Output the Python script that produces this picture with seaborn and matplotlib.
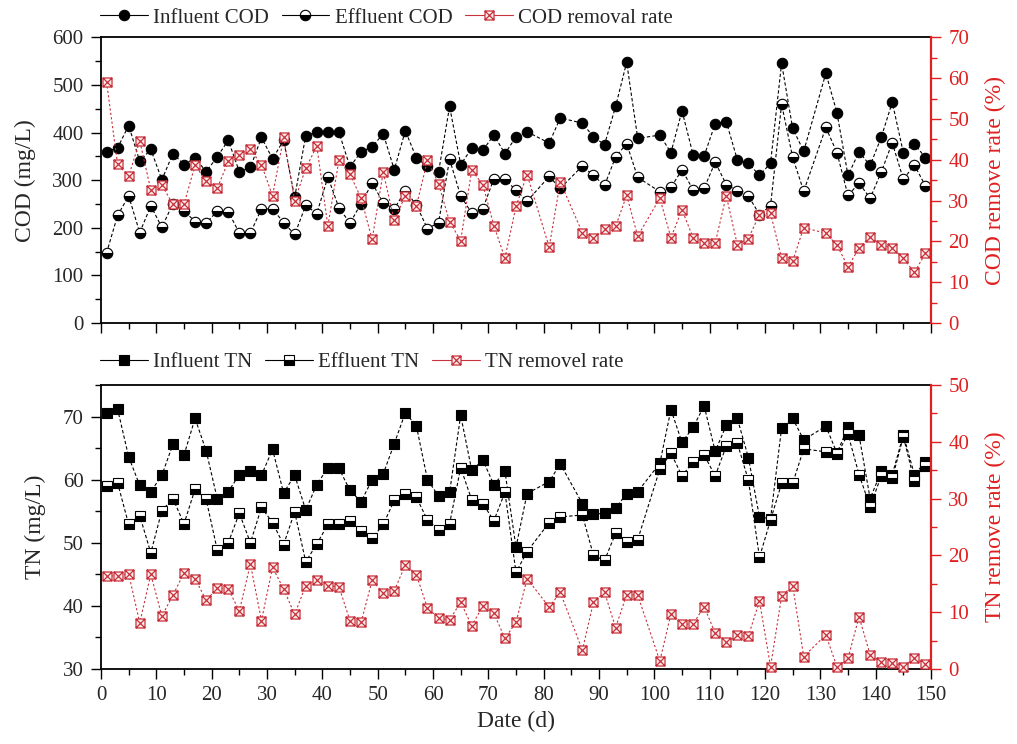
import matplotlib
matplotlib.use("Agg")
import matplotlib.pyplot as plt
from matplotlib.path import Path
from matplotlib.ticker import MultipleLocator
import numpy as np
import pandas as pd
import seaborn as sns

# ---------------- data ----------------
days = [1, 3, 5, 7, 9, 11, 13, 15, 17, 19, 21, 23, 25, 27, 29, 31, 33, 35, 37, 39,
        41, 43, 45, 47, 49, 51, 53, 55, 57, 59, 61, 63, 65, 67, 69, 71, 73, 75, 77,
        81, 83, 87, 89, 91, 93, 95, 97,
        101, 103, 105, 107, 109, 111, 113, 115, 117, 119, 121, 123, 125, 127,
        131, 133, 135, 137, 139, 141, 143, 145, 147, 149]

influent_cod = [360, 368, 415, 340, 365, 301, 356, 333, 347, 318,
                349, 384, 318, 327, 390, 345, 384, 264, 394, 401,
                401, 401, 328, 360, 370, 398, 322, 404, 347, 329,
                317, 455, 333, 367, 363, 395, 356, 391, 402,
                378, 431, 420, 391, 375, 455, 548, 388,
                395, 358, 446, 354, 351, 419, 423, 343, 336, 310, 336, 546, 409, 361,
                525, 442, 310, 360, 331, 390, 464, 358, 377, 347]

effluent_cod = [147, 226, 267, 190, 246, 201, 251, 236, 213, 210,
                235, 234, 189, 189, 240, 240, 211, 186, 247, 230,
                307, 242, 210, 251, 294, 253, 240, 278, 248, 198,
                211, 344, 267, 231, 240, 303, 302, 279, 256,
                308, 283, 330, 310, 289, 349, 377, 306,
                276, 285, 322, 280, 283, 338, 291, 278, 267, 228, 246, 460, 348, 277,
                411, 358, 268, 294, 262, 317, 379, 302, 332, 288]

cod_rate = [59.1, 38.9, 36.0, 44.7, 32.6, 33.8, 29.1, 29.1, 38.7, 34.8,
            33.0, 39.6, 41.3, 42.6, 38.8, 31.2, 45.5, 30.0, 37.9, 43.4,
            23.8, 39.9, 36.5, 30.6, 20.5, 37.0, 25.2, 31.2, 28.7, 39.9,
            34.2, 24.8, 20.2, 37.5, 33.9, 23.9, 15.9, 28.6, 36.4,
            18.6, 34.6, 22.1, 20.8, 23.0, 23.7, 31.3, 21.3,
            30.6, 20.9, 27.8, 20.9, 19.6, 19.6, 31.2, 19.2, 20.7, 26.6, 26.9, 15.9, 15.2, 23.4,
            22.0, 19.1, 13.8, 18.4, 21.2, 19.1, 18.4, 15.9, 12.4, 17.1]

influent_tn = [70.6, 71.2, 63.6, 59.1, 58.1, 60.7, 65.6, 63.9, 69.7, 64.6,
               57.0, 58.1, 60.8, 61.4, 60.7, 64.8, 57.9, 60.7, 55.2, 59.2,
               61.9, 61.8, 58.3, 56.5, 60.0, 60.9, 65.7, 70.6, 68.5, 60.0,
               57.4, 58.0, 70.2, 61.5, 63.1, 59.2, 61.3, 49.3, 57.8,
               59.7, 62.5, 56.2, 54.5, 54.7, 55.5, 57.8, 58.1,
               62.6, 71.1, 65.9, 68.3, 71.7, 64.5, 68.6, 69.7, 63.5, 54.1, 53.8, 68.2, 69.7, 66.3,
               68.5, 64.2, 68.3, 67.0, 57.0, 61.3, 60.8, 67.1, 60.8, 62.8]

effluent_tn = [59.0, 59.5, 52.9, 54.3, 48.4, 55.1, 57.0, 53.0, 58.5, 56.9,
               48.9, 50.0, 54.7, 50.0, 55.6, 53.2, 49.7, 54.9, 47.0, 49.8,
               52.9, 52.9, 53.5, 51.9, 50.7, 52.9, 56.7, 57.7, 57.2, 53.6,
               52.1, 53.0, 61.9, 56.8, 56.2, 53.5, 58.0, 45.3, 48.6,
               53.2, 54.1, 54.4, 48.0, 47.2, 51.5, 50.2, 50.5,
               61.7, 64.2, 60.6, 62.8, 63.9, 60.6, 65.3, 65.8, 59.9, 47.7, 53.6, 59.4, 59.4, 64.9,
               64.4, 64.0, 67.2, 60.8, 55.7, 60.6, 60.2, 66.8, 59.8, 62.2]

tn_rate = [16.4, 16.4, 16.8, 8.1, 16.7, 9.3, 13.0, 16.9, 15.9, 12.1,
           14.2, 14.1, 10.2, 18.5, 8.5, 17.9, 14.1, 9.6, 14.7, 15.7,
           14.6, 14.5, 8.5, 8.2, 15.6, 13.4, 13.8, 18.3, 16.6, 10.7,
           9.0, 8.6, 11.8, 7.6, 11.1, 9.8, 5.4, 8.2, 15.9,
           10.9, 13.5, 3.3, 11.8, 13.5, 7.3, 13.1, 13.0,
           1.4, 9.7, 7.9, 7.9, 11.0, 6.3, 4.8, 5.9, 5.8, 12.0, 0.4, 12.8, 14.7, 2.2,
           6.0, 0.4, 1.9, 9.2, 2.5, 1.3, 1.1, 0.4, 1.9, 0.9]

df = pd.DataFrame({"day": days, "in_cod": influent_cod, "eff_cod": effluent_cod,
                   "cod_rate": cod_rate, "in_tn": influent_tn, "eff_tn": effluent_tn,
                   "tn_rate": tn_rate})

# ---------------- style ----------------
sns.set_style("ticks")
plt.rcParams["font.family"] = ["Liberation Serif", "DejaVu Serif"]
RED = "#E02020"
MRED = "#C8323C"
FS_TICK = 15
FS_LAB = 17

# square with an X inside
boxx = Path([(-1, -1), (1, -1), (1, 1), (-1, 1), (-1, -1),
             (-1, -1), (1, 1), (-1, 1), (1, -1)],
            [Path.MOVETO, Path.LINETO, Path.LINETO, Path.LINETO, Path.CLOSEPOLY,
             Path.MOVETO, Path.LINETO, Path.MOVETO, Path.LINETO])

fig = plt.figure(figsize=(10.17, 7.44), dpi=100)
ax1 = fig.add_axes([101 / 1017, 1 - 323 / 744, 830 / 1017, 285.5 / 744])
ax3 = fig.add_axes([101 / 1017, 1 - 669 / 744, 830 / 1017, 284 / 744])
ax2 = ax1.twinx()
ax4 = ax3.twinx()

black_kw = dict(color="black", lw=0.8, linestyle=(0, (3, 2)), markeredgecolor="black",
                markeredgewidth=0.8, errorbar=None, legend=False)
red_kw = dict(color=MRED, lw=0.8, linestyle=(0, (2, 2)), marker=boxx, markersize=6.5,
              markerfacecolor="#FBEAEA", markeredgecolor=MRED, markeredgewidth=0.9,
              errorbar=None, legend=False, clip_on=False)

sns.lineplot(data=df, x="day", y="in_cod", ax=ax1, marker="o", markersize=7.5,
             markerfacecolor="black", label="Influent COD", **black_kw)
sns.lineplot(data=df, x="day", y="eff_cod", ax=ax1, marker="o", markersize=7.5,
             fillstyle="bottom", markerfacecolor="black", markerfacecoloralt="white",
             label="Effluent COD", **black_kw)
sns.lineplot(data=df, x="day", y="cod_rate", ax=ax2, label="COD removal rate", **red_kw)

sns.lineplot(data=df, x="day", y="in_tn", ax=ax3, marker="s", markersize=6.5,
             markerfacecolor="black", label="Influent TN", **black_kw)
sns.lineplot(data=df, x="day", y="eff_tn", ax=ax3, marker="s", markersize=6.5,
             fillstyle="bottom", markerfacecolor="black", markerfacecoloralt="white",
             label="Effluent TN", **black_kw)
sns.lineplot(data=df, x="day", y="tn_rate", ax=ax4, label="TN removel rate", **red_kw)

# ---------------- axes formatting ----------------
for ax in (ax1, ax3):
    ax.set_xlim(0, 150)
    ax.xaxis.set_major_locator(MultipleLocator(10))
    ax.xaxis.set_minor_locator(MultipleLocator(5))
    ax.tick_params(axis="both", which="major", direction="out", length=7.5, width=1.0,
                   labelsize=FS_TICK, color="black", pad=5)
    ax.tick_params(axis="both", which="minor", direction="out", length=4, width=1.0,
                   color="black")
    for s in ("left", "bottom", "top"):
        ax.spines[s].set_linewidth(1.3)
        ax.spines[s].set_color("black")
    ax.spines["right"].set_visible(False)

for ax in (ax2, ax4):
    for s in ("left", "bottom", "top"):
        ax.spines[s].set_visible(False)
    ax.spines["right"].set_visible(True)
    ax.spines["right"].set_color(RED)
    ax.spines["right"].set_linewidth(1.6)
    ax.yaxis.set_major_locator(MultipleLocator(10))
    ax.yaxis.set_minor_locator(MultipleLocator(5))
    ax.tick_params(axis="y", which="major", direction="out", length=7.5, width=1.0,
                   labelsize=FS_TICK, colors=RED, pad=5)
    ax.tick_params(axis="y", which="minor", direction="out", length=4, width=1.0,
                   colors=RED)

ax1.set_ylim(0, 600)
ax1.yaxis.set_major_locator(MultipleLocator(100))
ax1.yaxis.set_minor_locator(MultipleLocator(50))
ax1.tick_params(axis="x", labelbottom=False)
ax2.set_ylim(0, 70)

ax3.set_ylim(30, 75)
ax3.yaxis.set_major_locator(MultipleLocator(10))
ax3.yaxis.set_minor_locator(MultipleLocator(5))
ax4.set_ylim(0, 50)

ax1.set_xlabel("")
ax1.set_ylabel("COD (mg/L)", fontsize=FS_LAB, labelpad=12)
ax2.set_ylabel("COD remove rate (%)", fontsize=FS_LAB, color=RED, labelpad=11)
ax3.set_xlabel("Date (d)", fontsize=FS_LAB, labelpad=4)
ax3.set_ylabel("TN (mg/L)", fontsize=FS_LAB, labelpad=12)
ax4.set_ylabel("TN remove rate (%)", fontsize=FS_LAB, color=RED, labelpad=11)
ax2.set_xlabel("")
ax4.set_xlabel("")

# ---------------- legends ----------------
leg_kw = dict(loc="center left", ncol=3, frameon=False, fontsize=15,
              handlelength=2.3, handletextpad=0.25, columnspacing=0.6,
              borderpad=0, borderaxespad=0)
h_top = ax1.get_lines()[:2] + ax2.get_lines()[:1]
leg1 = fig.legend(h_top, [h.get_label() for h in h_top],
                  bbox_to_anchor=(100 / 1017, 1 - 18 / 744), **leg_kw)
h_bot = ax3.get_lines()[:2] + ax4.get_lines()[:1]
leg2 = fig.legend(h_bot, [h.get_label() for h in h_bot],
                  bbox_to_anchor=(100 / 1017, 1 - 362 / 744), **leg_kw)
for leg in (leg1, leg2):
    for ln in leg.get_lines():
        ln.set_linestyle("-")

fig.savefig("out.png", dpi=100)
